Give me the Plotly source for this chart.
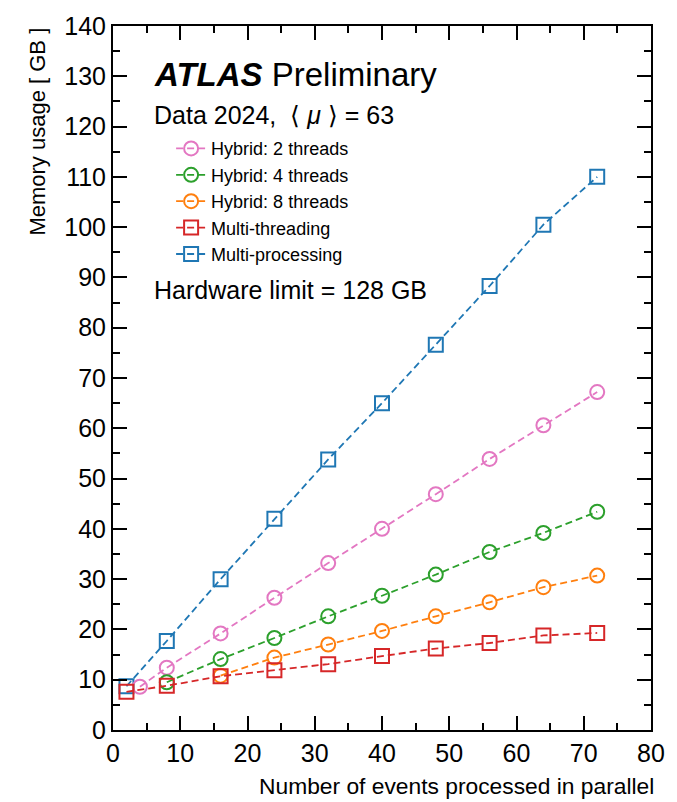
import plotly.graph_objects as go

# Memory usage vs. number of events processed in parallel
x_hybrid2 = [4, 8, 16, 24, 32, 40, 48, 56, 64, 72]
y_hybrid2 = [8.6, 12.4, 19.2, 26.3, 33.2, 40.0, 46.9, 53.9, 60.6, 67.2]

x_hybrid4 = [8, 16, 24, 32, 40, 48, 56, 64, 72]
y_hybrid4 = [9.5, 14.1, 18.3, 22.6, 26.7, 30.9, 35.4, 39.2, 43.4]

x_hybrid8 = [16, 24, 32, 40, 48, 56, 64, 72]
y_hybrid8 = [10.8, 14.4, 17.0, 19.7, 22.6, 25.4, 28.4, 30.7]

x_mt = [2, 8, 16, 24, 32, 40, 48, 56, 64, 72]
y_mt = [7.6, 8.8, 10.7, 11.9, 13.1, 14.7, 16.2, 17.3, 18.8, 19.3]

x_mp = [2, 8, 16, 24, 32, 40, 48, 56, 64, 72]
y_mp = [8.7, 17.7, 30.0, 42.0, 53.8, 65.0, 76.6, 88.3, 100.5, 110.0]

FONT = "Liberation Sans, Arial, Helvetica, sans-serif"

series = [
    # (name, x, y, color, symbol, legend rank)
    ("Multi-processing", x_mp, y_mp, "#1f77b4", "square-open", 5),
    ("Hybrid: 2 threads", x_hybrid2, y_hybrid2, "#e377c2", "circle-open", 1),
    ("Hybrid: 8 threads", x_hybrid8, y_hybrid8, "#ff7f0e", "circle-open", 3),
    ("Hybrid: 4 threads", x_hybrid4, y_hybrid4, "#2ca02c", "circle-open", 2),
    ("Multi-threading", x_mt, y_mt, "#d62728", "square-open", 4),
]

fig = go.Figure()
for name, xs, ys, color, symbol, rank in series:
    fig.add_trace(go.Scatter(
        x=xs, y=ys, name=name, mode="lines+markers",
        line=dict(color=color, width=1.8, dash="7px,4px"),
        marker=dict(symbol=symbol, size=14, color=color,
                    line=dict(color=color, width=2)),
        legendrank=rank,
    ))

axis_common = dict(
    showgrid=False, zeroline=False, showline=True, linecolor="black",
    linewidth=2, mirror="allticks", ticks="inside", ticklen=14,
    tickwidth=1.5, tickcolor="black",
    tickfont=dict(family=FONT, size=25, color="black"),
    minor=dict(ticks="inside", ticklen=7, tickwidth=1.5,
               tickcolor="black", dtick=5, showgrid=False),
)

fig.update_xaxes(range=[0, 80], dtick=10, tick0=0, **axis_common)
fig.update_yaxes(range=[0, 140], dtick=10, tick0=0, **axis_common)

annotations = [
    dict(text="<b><i>ATLAS</i></b> Preliminary", x=0.073, y=0.931,
         xanchor="left", yanchor="middle",
         font=dict(family=FONT, size=33, color="black")),
    dict(text="Data 2024,  ⟨ <i>μ</i> ⟩ = 63", x=0.073, y=0.873,
         xanchor="left", yanchor="middle",
         font=dict(family=FONT, size=25, color="black")),
    dict(text="Hardware limit = 128 GB", x=0.073, y=0.625,
         xanchor="left", yanchor="middle",
         font=dict(family=FONT, size=25, color="black")),
    dict(text="Memory usage [ GB ]", x=-0.142, y=1.0, textangle=-90,
         xanchor="center", yanchor="top",
         font=dict(family=FONT, size=22, color="black")),
    dict(text="Number of events processed in parallel", x=1.01, y=-0.08,
         xanchor="right", yanchor="middle",
         font=dict(family=FONT, size=22.8, color="black")),
]
for a in annotations:
    a.update(xref="paper", yref="paper", showarrow=False)

fig.update_layout(
    width=677, height=802,
    margin=dict(l=113, r=15, t=18, b=72),
    paper_bgcolor="white", plot_bgcolor="white",
    annotations=annotations,
    showlegend=True,
    legend=dict(
        x=0.108, y=0.852, xanchor="left", yanchor="top",
        bgcolor="rgba(0,0,0,0)", borderwidth=0,
        font=dict(family=FONT, size=18, color="black"),
        traceorder="normal", itemwidth=30, tracegroupgap=0,
    ),
)

fig.write_html("out.html")
